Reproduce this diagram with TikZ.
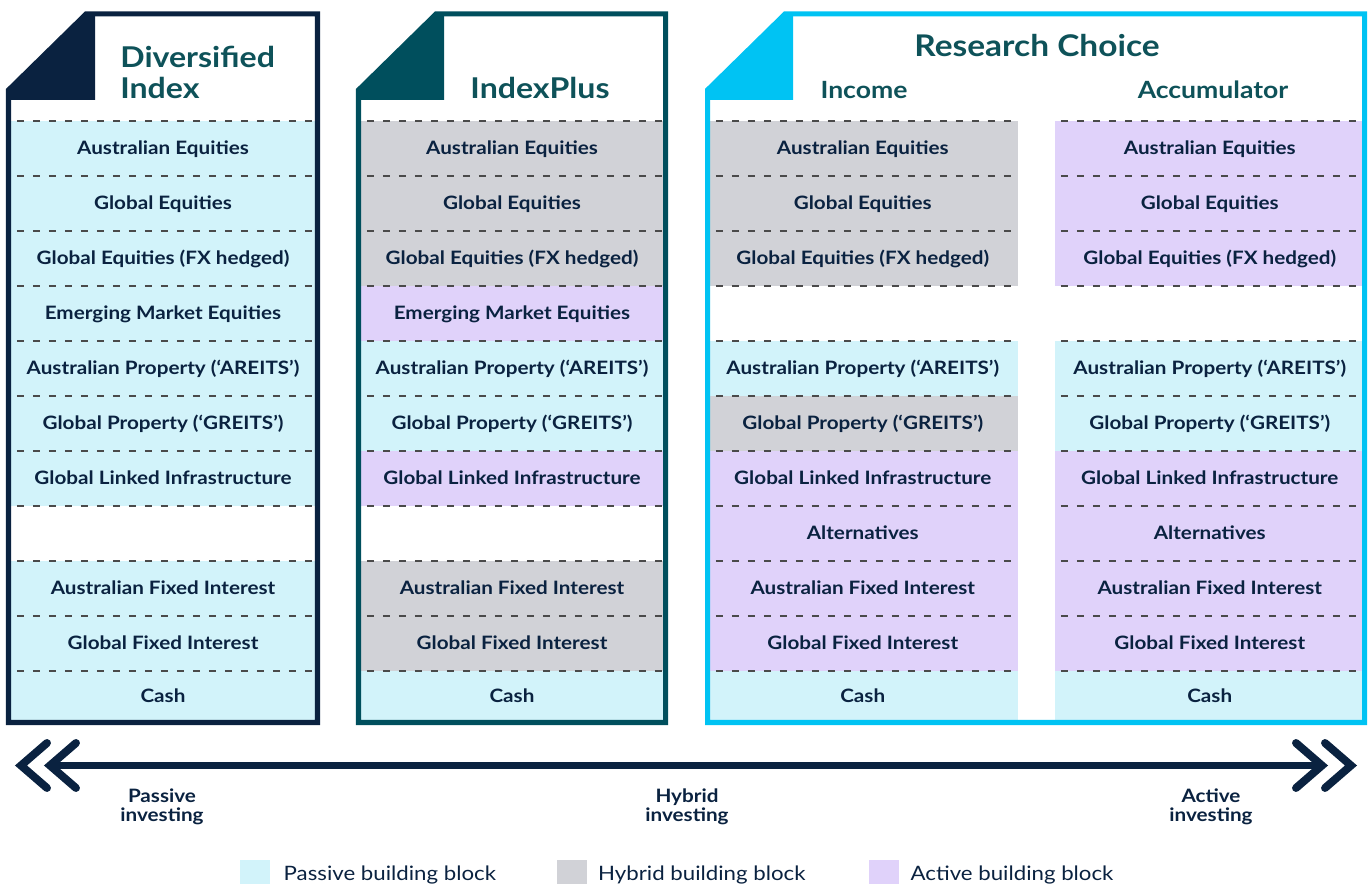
\documentclass[tikz,border=0pt]{standalone}
\usepackage{fontspec}
\setmainfont{Lato}[FakeStretch=1.12]
\usepackage{tikz}
\usetikzlibrary{positioning}

\definecolor{navy}{HTML}{0A2240}
\definecolor{tealb}{HTML}{004F5D}
\definecolor{cyanb}{HTML}{00C3F3}
\definecolor{titletxt}{HTML}{0E5259}
\definecolor{pas}{HTML}{D2F3FA}
\definecolor{hyb}{HTML}{D1D2D7}
\definecolor{act}{HTML}{E0D2FA}
\definecolor{dashc}{HTML}{4A4A4A}

\tikzset{
	cell/.style={inner sep=0pt, minimum height=1.1cm, text=navy, text height=.72em, text depth=0pt, font=\fontsize{10.5}{12}\selectfont\bfseries},
	sepline/.style={dashc, line width=1.1pt, dash pattern=on 4pt off 5.1pt, dash phase=5.7pt},
	frame/.style={line width=2.85pt, line join=miter},
	title/.style={inner sep=0pt, text=titletxt, font=\fontsize{16.3}{18}\selectfont\bfseries},
	subtitle/.style={inner sep=0pt, text=titletxt, anchor=base, font=\fontsize{13.5}{15}\selectfont\bfseries},
	lab/.style={inner sep=0pt, anchor=north, align=center, text=navy, font=\fontsize{10.5}{10.8}\selectfont\bfseries},
	chev/.style={navy, line width=4.5pt, line cap=round, line join=miter},
	legbox/.style={minimum size=0.6cm, inner sep=0pt},
	legtxt/.style={inner sep=0pt, text=navy, font=\fontsize{11.3}{13}\selectfont}
}

\begin{document}
\begin{tikzpicture}[x=0.02cm, y=-0.02cm]
		\useasboundingbox (0,0) rectangle (1370,884);

		% Diversified Index
		\foreach \t/\c [count=\i from 1] in {Australian Equities/pas, Global Equities/pas, Global Equities (FX hedged)/pas, Emerging Market Equities/pas, Australian Property (`AREITS')/pas, Global Property (`GREITS')/pas, Global Linked Infrastructure/pas, {}/white, Australian Fixed Interest/pas, Global Fixed Interest/pas}
			\node[cell, fill=\c, minimum width=6.18cm] (d\i) at (163,{93.5+55*\i}) {\t};
		\node[cell, fill=pas, minimum width=6.18cm, minimum height=1cm] (dcash) at (163,696) {Cash};

		% IndexPlus
		\foreach \t/\c [count=\i from 1] in {Australian Equities/hyb, Global Equities/hyb, Global Equities (FX hedged)/hyb, Emerging Market Equities/act, Australian Property (`AREITS')/pas, Global Property (`GREITS')/pas, Global Linked Infrastructure/act, {}/white, Australian Fixed Interest/hyb, Global Fixed Interest/hyb}
			\node[cell, fill=\c, minimum width=6.14cm] (ip\i) at (512,{93.5+55*\i}) {\t};
		\node[cell, fill=pas, minimum width=6.14cm, minimum height=1cm] (ipcash) at (512,696) {Cash};

		% Research Choice - Income
		\foreach \t/\c [count=\i from 1] in {Australian Equities/hyb, Global Equities/hyb, Global Equities (FX hedged)/hyb, {}/white, Australian Property (`AREITS')/pas, Global Property (`GREITS')/hyb, Global Linked Infrastructure/act, Alternatives/act, Australian Fixed Interest/act, Global Fixed Interest/act}
			\node[cell, fill=\c, minimum width=6.21cm] (inc\i) at (862.75,{93.5+55*\i}) {\t};
		\node[cell, fill=pas, minimum width=6.21cm, minimum height=1cm] (inccash) at (862.75,696) {Cash};

		% Research Choice - Accumulator
		\foreach \t/\c [count=\i from 1] in {Australian Equities/act, Global Equities/act, Global Equities (FX hedged)/act, {}/white, Australian Property (`AREITS')/pas, Global Property (`GREITS')/pas, Global Linked Infrastructure/act, Alternatives/act, Australian Fixed Interest/act, Global Fixed Interest/act}
			\node[cell, fill=\c, minimum width=6.19cm] (acc\i) at (1209.75,{93.5+55*\i}) {\t};
		\node[cell, fill=pas, minimum width=6.19cm, minimum height=1cm] (acccash) at (1209.75,696) {Cash};

		% dashed separators
		\foreach \k in {0,...,10} {
			\draw[sepline] (11,{121+55*\k}) -- (315,{121+55*\k});
			\draw[sepline] (361,{121+55*\k}) -- (663,{121+55*\k});
			\draw[sepline] (710,{121+55*\k}) -- (1018,{121+55*\k});
			\draw[sepline] (1055,{121+55*\k}) -- (1362,{121+55*\k});
		}

		% frames with folded corner
		\draw[frame, navy] (8.5,722.5) -- (8.5,90) -- (86,14) -- (317.5,14) -- (317.5,722.5) -- cycle;
		\fill[navy] (8.5,90) -- (86,14) -- (95,14) -- (95,100) -- (8.5,100) -- cycle;
		\draw[frame, tealb] (358.5,722.5) -- (358.5,90) -- (436,14) -- (665.5,14) -- (665.5,722.5) -- cycle;
		\fill[tealb] (358.5,90) -- (436,14) -- (444,14) -- (444,100) -- (358.5,100) -- cycle;
		\draw[frame, cyanb] (707.5,722.5) -- (707.5,90) -- (785,14) -- (1364.5,14) -- (1364.5,722.5) -- cycle;
		\fill[cyanb] (707.5,90) -- (785,14) -- (793,14) -- (793,100) -- (707.5,100) -- cycle;

		% titles
		\node[title, anchor=base west] (dtitle) at (120,68) {Diversified};
		\node[title, anchor=base west] (dtitle2) at (120,99) {Index};
		\node[title, anchor=base] (iptitle) at (540,99) {IndexPlus};
		\node[title, anchor=base, font=\fontsize{17}{19}\selectfont\bfseries] (rctitle) at (1037,57) {Research Choice};
		\node[subtitle] (inctitle) at (864,99) {Income};
		\node[subtitle] (acctitle) at (1213,99) {Accumulator};

		% passive -- active scale
		\coordinate (lend) at (50,765.5);
		\coordinate (rend) at (1322,765.5);
		\draw[navy, line width=4pt] (lend) -- (rend);
		\draw[chev] (lend) ++(26,-22.5) -- ++(-26,22.5) -- ++(26,22.5);
		\draw[chev] (lend) ++(-3,-22.5) -- ++(-26,22.5) -- ++(26,22.5);
		\draw[chev] (rend) ++(-26,-22.5) -- ++(26,22.5) -- ++(-26,22.5);
		\draw[chev] (rend) ++(3,-22.5) -- ++(26,22.5) -- ++(-26,22.5);
		\node[lab] (pasinv) at (162,788) {Passive\\investing};
		\node[lab] (hybinv) at (687,788) {Hybrid\\investing};
		\node[lab] (actinv) at (1211,788) {Active\\investing};

		% legend
		\node[legbox, fill=pas] (lpas) at (255,875) {};
		\node[legtxt, right=0.26cm of lpas] (lpastxt) {Passive building block};
		\node[legbox, fill=hyb] (lhyb) at (571.5,875) {};
		\node[legtxt, right=0.22cm of lhyb] (lhybtxt) {Hybrid building block};
		\node[legbox, fill=act] (lact) at (884,875) {};
		\node[legtxt, right=0.22cm of lact] (lacttxt) {Active building block};
	\end{tikzpicture}
\end{document}
